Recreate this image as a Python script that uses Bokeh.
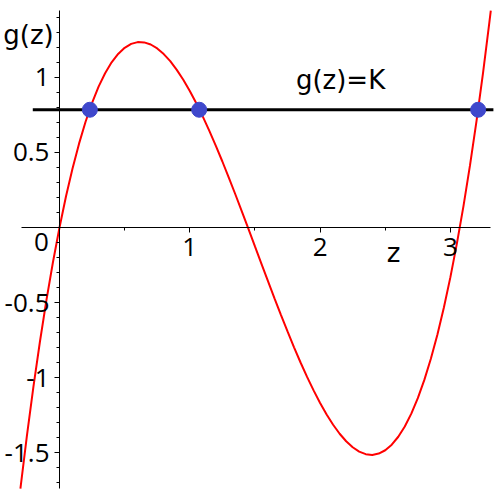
from bokeh.plotting import figure
from bokeh.models import Range1d, FixedTicker, Label
from bokeh.embed import file_html
from bokeh.resources import INLINE

# ---- data ----
Z = [-0.30, -0.25, -0.20, -0.15, -0.10, -0.05, 0.00, 0.05, 0.10, 0.15,
     0.20, 0.25, 0.30, 0.35, 0.40, 0.45, 0.50, 0.55, 0.60, 0.65,
     0.70, 0.75, 0.80, 0.85, 0.90, 0.95, 1.00, 1.05, 1.10, 1.15,
     1.20, 1.25, 1.30, 1.35, 1.40, 1.45, 1.50, 1.55, 1.60, 1.65,
     1.70, 1.75, 1.80, 1.85, 1.90, 1.95, 2.00, 2.05, 2.10, 2.15,
     2.20, 2.25, 2.30, 2.35, 2.40, 2.45, 2.50, 2.55, 2.60, 2.65,
     2.70, 2.75, 2.80, 2.85, 2.90, 2.95, 3.00, 3.05, 3.10, 3.15,
     3.20, 3.25, 3.30, 3.31]
G = [-1.740, -1.387, -1.061, -0.760, -0.483, -0.230, 0.000, 0.208, 0.394, 0.559,
     0.705, 0.831, 0.939, 1.028, 1.101, 1.157, 1.198, 1.224, 1.236, 1.234,
     1.220, 1.194, 1.156, 1.109, 1.051, 0.985, 0.910, 0.828, 0.739, 0.644,
     0.544, 0.440, 0.331, 0.220, 0.106, -0.009, -0.126, -0.242, -0.357, -0.472,
     -0.584, -0.693, -0.799, -0.900, -0.996, -1.086, -1.170, -1.247, -1.315, -1.375,
     -1.425, -1.465, -1.494, -1.511, -1.516, -1.507, -1.485, -1.448, -1.395, -1.327,
     -1.241, -1.138, -1.016, -0.875, -0.715, -0.533, -0.331, -0.106, 0.141, 0.412,
     0.707, 1.028, 1.374, 1.446]
K = 0.785
K_LINE_Z = [-0.205, 3.33]
ROOTS_Z = [0.233, 1.072, 3.213]

X_TICKS = [1, 2, 3]
X_MINOR = [0.5, 1.5, 2.5]
X_LABELS = {1: "1", 2: "2", 3: "3"}
Y_TICKS = [-1.5, -1.0, -0.5, 0.5, 1.0]
Y_MINOR = [-1.7, -1.6, -1.4, -1.3, -1.2, -1.1, -0.9, -0.8, -0.7, -0.6,
           -0.4, -0.3, -0.2, -0.1, 0.1, 0.2, 0.3, 0.4, 0.6, 0.7, 0.8, 0.9,
           1.1, 1.2, 1.3, 1.4]
Y_LABELS = {-1.5: "-1.5", -1.0: "-1", -0.5: "-0.5", 0.5: "0.5", 1.0: "1"}

p = figure(width=496, height=496,
           x_range=Range1d(-0.4528, 3.3538), y_range=Range1d(-1.7933, 1.5133),
           output_backend="svg", toolbar_location=None, min_border=0)
p.grid.visible = False
p.outline_line_color = None
p.background_fill_color = "white"

for ax in (p.xaxis, p.yaxis):
    ax.fixed_location = 0
    ax.axis_line_color = "black"
    ax.axis_line_width = 1
    ax.major_tick_in = 0
    ax.major_tick_out = 5
    ax.minor_tick_in = 0
    ax.minor_tick_out = 3
    ax.major_tick_line_color = "black"
    ax.minor_tick_line_color = "black"
    ax.major_label_text_font = "Open Sans"
    ax.major_label_text_font_size = "26px"
    ax.major_label_text_color = "black"

p.xaxis.major_label_standoff = 6
p.yaxis.major_label_standoff = 5
p.xaxis.bounds = (-0.294, 3.308)
p.yaxis.bounds = (-1.742, 1.447)
p.xaxis.ticker = FixedTicker(ticks=X_TICKS, minor_ticks=X_MINOR)
p.yaxis.ticker = FixedTicker(ticks=Y_TICKS, minor_ticks=Y_MINOR)
p.xaxis.major_label_overrides = X_LABELS
p.yaxis.major_label_overrides = Y_LABELS

p.line(Z, G, line_color="#ff0000", line_width=2)
p.line(K_LINE_Z, [K, K], line_color="black", line_width=3)
p.scatter(ROOTS_Z, [K] * len(ROOTS_Z), size=15, fill_color="#3f48cc",
          line_color="#3f48cc")

p.add_layout(Label(x=-0.238, y=1.28, text="g(z)", text_align="center",
                   text_baseline="alphabetic", text_font="DejaVu Sans",
                   text_font_size="26px", text_color="black"))
p.add_layout(Label(x=2.157, y=0.985, text="g(z)=K", text_align="center",
                   text_baseline="alphabetic", text_font="DejaVu Sans",
                   text_font_size="26px", text_color="black"))
p.add_layout(Label(x=2.563, y=-0.173, text="z", text_align="center",
                   text_baseline="alphabetic", text_font="DejaVu Sans",
                   text_font_size="26px", text_color="black"))
p.add_layout(Label(x=-0.138, y=-0.10, text="0", text_align="center",
                   text_baseline="alphabetic", text_font="Open Sans",
                   text_font_size="26px", text_color="black"))

open("out.html", "w").write(file_html(p, INLINE))
